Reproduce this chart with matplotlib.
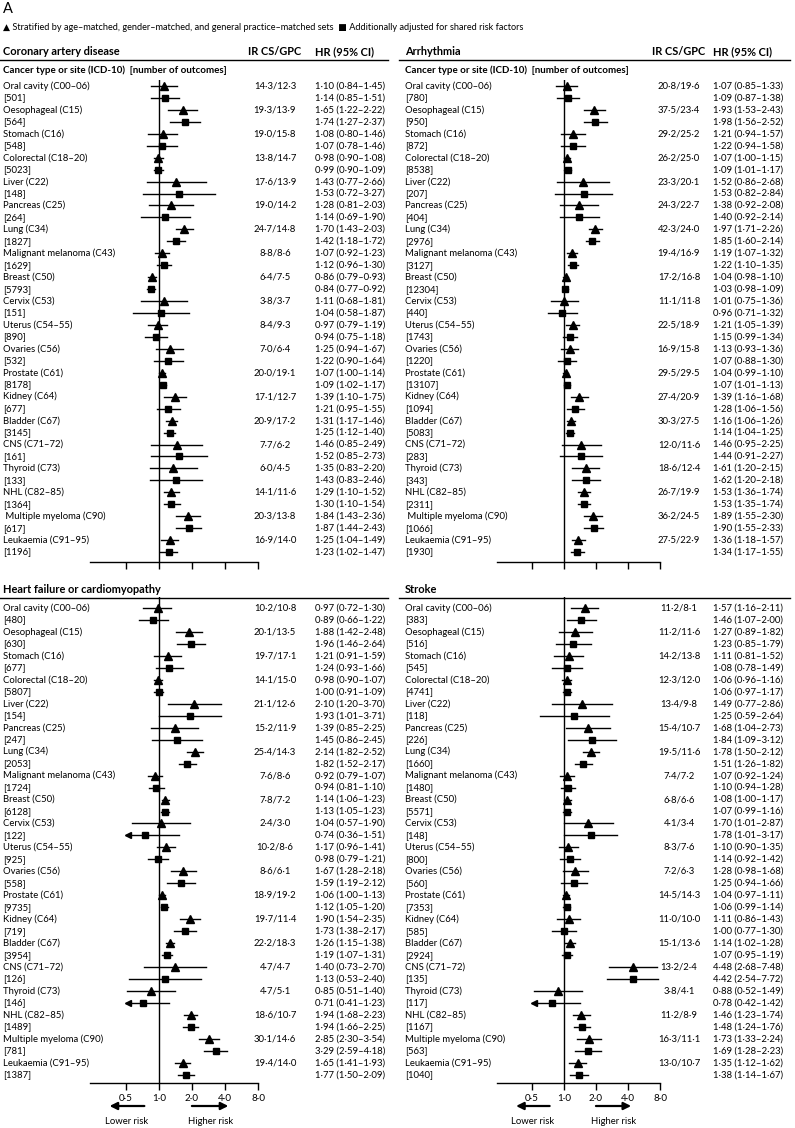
import matplotlib
matplotlib.use("Agg")
import matplotlib.pyplot as plt
from matplotlib.lines import Line2D
from matplotlib.ticker import NullLocator
import matplotlib.transforms as mtransforms

plt.rcParams['font.family'] = ['Lato', 'DejaVu Sans']

W, H = 795, 1128

# ---- data ----
cancers = ["Oral cavity (C00–06)", "Oesophageal (C15)", "Stomach (C16)", "Colorectal (C18–20)",
           "Liver (C22)", "Pancreas (C25)", "Lung (C34)", "Malignant melanoma (C43)",
           "Breast (C50)", "Cervix (C53)", "Uterus (C54–55)", "Ovaries (C56)",
           "Prostate (C61)", "Kidney (C64)", "Bladder (C67)", "CNS (C71–72)",
           "Thyroid (C73)", "NHL (C82–85)", "Multiple myeloma (C90)", "Leukaemia (C91–95)"]
xticks = [0.5, 1, 2, 4, 8]
xtick_labels = ["0·5", "1·0", "2·0", "4·0", "8·0"]

# coronary artery disease
cad_ir = ["14·3/12·3", "19·3/13·9", "19·0/15·8", "13·8/14·7", "17·6/13·9", "19·0/14·2", "24·7/14·8",
          "8·8/8·6", "6·4/7·5", "3·8/3·7", "8·4/9·3", "7·0/6·4", "20·0/19·1", "17·1/12·7",
          "20·9/17·2", "7·7/6·2", "6·0/4·5", "14·1/11·6", "20·3/13·8", "16·9/14·0"]
cad_n = [501, 564, 548, 5023, 148, 264, 1827, 1629, 5793, 151, 890, 532, 8178, 677, 3145, 161,
         133, 1364, 617, 1196]
cad_strat = [(1.10, 0.84, 1.45), (1.65, 1.22, 2.22), (1.08, 0.80, 1.46), (0.98, 0.90, 1.08),
             (1.43, 0.77, 2.66), (1.28, 0.81, 2.03), (1.70, 1.43, 2.03), (1.07, 0.92, 1.23),
             (0.86, 0.79, 0.93), (1.11, 0.68, 1.81), (0.97, 0.79, 1.19), (1.25, 0.94, 1.67),
             (1.07, 1.00, 1.14), (1.39, 1.10, 1.75), (1.31, 1.17, 1.46), (1.46, 0.85, 2.49),
             (1.35, 0.83, 2.20), (1.29, 1.10, 1.52), (1.84, 1.43, 2.36), (1.25, 1.04, 1.49)]
cad_adj = [(1.14, 0.85, 1.51), (1.74, 1.27, 2.37), (1.07, 0.78, 1.46), (0.99, 0.90, 1.09),
           (1.53, 0.72, 3.27), (1.14, 0.69, 1.90), (1.42, 1.18, 1.72), (1.12, 0.96, 1.30),
           (0.84, 0.77, 0.92), (1.04, 0.58, 1.87), (0.94, 0.75, 1.18), (1.22, 0.90, 1.64),
           (1.09, 1.02, 1.17), (1.21, 0.95, 1.55), (1.25, 1.12, 1.40), (1.52, 0.85, 2.73),
           (1.43, 0.83, 2.46), (1.30, 1.10, 1.54), (1.87, 1.44, 2.43), (1.23, 1.02, 1.47)]

# arrhythmia
arr_ir = ["20·8/19·6", "37·5/23·4", "29·2/25·2", "26·2/25·0", "23·3/20·1", "24·3/22·7", "42·3/24·0",
          "19·4/16·9", "17·2/16·8", "11·1/11·8", "22·5/18·9", "16·9/15·8", "29·5/29·5", "27·4/20·9",
          "30·3/27·5", "12·0/11·6", "18·6/12·4", "26·7/19·9", "36·2/24·5", "27·5/22·9"]
arr_n = [780, 950, 872, 8538, 207, 404, 2976, 3127, 12304, 440, 1743, 1220, 13107, 1094, 5083,
         283, 343, 2311, 1066, 1930]
arr_strat = [(1.07, 0.85, 1.33), (1.93, 1.53, 2.43), (1.21, 0.94, 1.57), (1.07, 1.00, 1.15),
             (1.52, 0.86, 2.68), (1.38, 0.92, 2.08), (1.97, 1.71, 2.26), (1.19, 1.07, 1.32),
             (1.04, 0.98, 1.10), (1.01, 0.75, 1.36), (1.21, 1.05, 1.39), (1.13, 0.93, 1.36),
             (1.04, 0.99, 1.10), (1.39, 1.16, 1.68), (1.16, 1.06, 1.26), (1.46, 0.95, 2.25),
             (1.61, 1.20, 2.15), (1.53, 1.36, 1.74), (1.89, 1.55, 2.30), (1.36, 1.18, 1.57)]
arr_adj = [(1.09, 0.87, 1.38), (1.98, 1.56, 2.52), (1.22, 0.94, 1.58), (1.09, 1.01, 1.17),
           (1.53, 0.82, 2.84), (1.40, 0.92, 2.14), (1.85, 1.60, 2.14), (1.22, 1.10, 1.35),
           (1.03, 0.98, 1.09), (0.96, 0.71, 1.32), (1.15, 0.99, 1.34), (1.07, 0.88, 1.30),
           (1.07, 1.01, 1.13), (1.28, 1.06, 1.56), (1.14, 1.04, 1.25), (1.44, 0.91, 2.27),
           (1.62, 1.20, 2.18), (1.53, 1.35, 1.74), (1.90, 1.55, 2.33), (1.34, 1.17, 1.55)]

# heart failure or cardiomyopathy
hf_ir = ["10·2/10·8", "20·1/13·5", "19·7/17·1", "14·1/15·0", "21·1/12·6", "15·2/11·9", "25·4/14·3",
         "7·6/8·6", "7·8/7·2", "2·4/3·0", "10·2/8·6", "8·6/6·1", "18·9/19·2", "19·7/11·4",
         "22·2/18·3", "4·7/4·7", "4·7/5·1", "18·6/10·7", "30·1/14·6", "19·4/14·0"]
hf_n = [480, 630, 677, 5807, 154, 247, 2053, 1724, 6128, 122, 925, 558, 9735, 719, 3954, 126,
        146, 1489, 781, 1387]
hf_strat = [(0.97, 0.72, 1.30), (1.88, 1.42, 2.48), (1.21, 0.91, 1.59), (0.98, 0.90, 1.07),
            (2.10, 1.20, 3.70), (1.39, 0.85, 2.25), (2.14, 1.82, 2.52), (0.92, 0.79, 1.07),
            (1.14, 1.06, 1.23), (1.04, 0.57, 1.90), (1.17, 0.96, 1.41), (1.67, 1.28, 2.18),
            (1.06, 1.00, 1.13), (1.90, 1.54, 2.35), (1.26, 1.15, 1.38), (1.40, 0.73, 2.70),
            (0.85, 0.51, 1.40), (1.94, 1.68, 2.23), (2.85, 2.30, 3.54), (1.65, 1.41, 1.93)]
hf_adj = [(0.89, 0.66, 1.22), (1.96, 1.46, 2.64), (1.24, 0.93, 1.66), (1.00, 0.91, 1.09),
          (1.93, 1.01, 3.71), (1.45, 0.86, 2.45), (1.82, 1.52, 2.17), (0.94, 0.81, 1.10),
          (1.13, 1.05, 1.23), (0.74, 0.36, 1.51), (0.98, 0.79, 1.21), (1.59, 1.19, 2.12),
          (1.12, 1.05, 1.20), (1.73, 1.38, 2.17), (1.19, 1.07, 1.31), (1.13, 0.53, 2.40),
          (0.71, 0.41, 1.23), (1.94, 1.66, 2.25), (3.29, 2.59, 4.18), (1.77, 1.50, 2.09)]

# stroke
st_ir = ["11·2/8·1", "11·2/11·6", "14·2/13·8", "12·3/12·0", "13·4/9·8", "15·4/10·7", "19·5/11·6",
         "7·4/7·2", "6·8/6·6", "4·1/3·4", "8·3/7·6", "7·2/6·3", "14·5/14·3", "11·0/10·0",
         "15·1/13·6", "13·2/2·4", "3·8/4·1", "11·2/8·9", "16·3/11·1", "13·0/10·7"]
st_n = [383, 516, 545, 4741, 118, 226, 1660, 1480, 5571, 148, 800, 560, 7353, 585, 2924, 135,
        117, 1167, 563, 1040]
st_strat = [(1.57, 1.16, 2.11), (1.27, 0.89, 1.82), (1.11, 0.81, 1.52), (1.06, 0.96, 1.16),
            (1.49, 0.77, 2.86), (1.68, 1.04, 2.73), (1.78, 1.50, 2.12), (1.07, 0.92, 1.24),
            (1.08, 1.00, 1.17), (1.70, 1.01, 2.87), (1.10, 0.90, 1.35), (1.28, 0.98, 1.68),
            (1.04, 0.97, 1.11), (1.11, 0.86, 1.43), (1.14, 1.02, 1.28), (4.48, 2.68, 7.48),
            (0.88, 0.52, 1.49), (1.46, 1.23, 1.74), (1.73, 1.33, 2.24), (1.35, 1.12, 1.62)]
st_adj = [(1.46, 1.07, 2.00), (1.23, 0.85, 1.79), (1.08, 0.78, 1.49), (1.06, 0.97, 1.17),
          (1.25, 0.59, 2.64), (1.84, 1.09, 3.12), (1.51, 1.26, 1.82), (1.10, 0.94, 1.28),
          (1.07, 0.99, 1.16), (1.78, 1.01, 3.17), (1.14, 0.92, 1.42), (1.25, 0.94, 1.66),
          (1.06, 0.99, 1.14), (1.00, 0.77, 1.30), (1.07, 0.95, 1.19), (4.42, 2.54, 7.72),
          (0.78, 0.42, 1.42), (1.48, 1.24, 1.76), (1.69, 1.28, 2.23), (1.38, 1.14, 1.67)]

FS = 6.8        # row text
FS_HEAD = 7.9   # bold panel headings
CLIP = 0.5      # CI lines are cut here and get an arrow


def fx(x):
    return x / W


def fy(y):
    return 1 - y / H


def hline(fig, x0, x1, y, lw=1.0):
    fig.add_artist(Line2D([fx(x0), fx(x1)], [fy(y), fy(y)], transform=fig.transFigure,
                          color='black', lw=lw))


def fmt_hr(t):
    return ("%.2f (%.2f–%.2f)" % t).replace('.', '·')


def draw_panel(fig, ax_px, ylim, text_x, ir_cx, hr_x, title, ir, n, strat, adj,
               top, mm_space, show_labels):
    x0, x1, y0, y1 = ax_px
    ax = fig.add_axes([fx(x0), fy(y1), fx(x1) - fx(x0), (y1 - y0) / H])
    ax.set_xscale('log', base=2)
    ax.set_xlim(0.235, 8)
    ax.set_ylim(*ylim)
    for s in ['top', 'right', 'left']:
        ax.spines[s].set_visible(False)
    ax.spines['bottom'].set_linewidth(1.0)
    ax.set_yticks([])
    ax.set_xticks(xticks)
    ax.xaxis.set_minor_locator(NullLocator())
    ax.tick_params(axis='x', direction='out', length=5, width=1.0, pad=3,
                   labelsize=FS + 0.3, labelbottom=show_labels)
    ax.set_xticklabels(xtick_labels)
    ax.axvline(1, color='black', lw=1.0, zorder=1)
    ax.patch.set_alpha(0)

    tr = mtransforms.blended_transform_factory(fig.transFigure, ax.transData)
    for i, name in enumerate(cancers):
        for k, (vals, mk, ms) in enumerate([(strat[i], '^', 5.6), (adj[i], 's', 4.6)]):
            row = 2 * i + k
            hr, lo, hi = vals
            ax.plot([max(lo, CLIP), hi], [row, row], color='black', lw=1.0, zorder=2)
            if lo < CLIP:
                ax.plot([CLIP * 1.04], [row], marker='<', ms=4, color='black', zorder=3)
            ax.plot([hr], [row], marker=mk, ms=ms, color='black', zorder=3, lw=0)
            fig.text(fx(hr_x), row, fmt_hr(vals), transform=tr, fontsize=FS, va='center')
        label = name
        if mm_space and name.startswith("Multiple"):
            label = " " + name
        fig.text(fx(text_x), 2 * i, label, transform=tr, fontsize=FS, va='center')
        fig.text(fx(text_x), 2 * i + 1, "[%d]" % n[i], transform=tr, fontsize=FS, va='center')
        fig.text(fx(ir_cx), 2 * i, ir[i], transform=tr, fontsize=FS, va='center', ha='center')

    lx0 = text_x - 6
    lx1 = text_x + 385
    if top:
        fig.text(fx(text_x), fy(55), title, fontsize=FS_HEAD, fontweight='bold', va='baseline')
        fig.text(fx(ir_cx), fy(55), "IR CS/GPC", fontsize=FS_HEAD, fontweight='bold',
                 va='baseline', ha='center')
        fig.text(fx(hr_x), fy(55), "HR (95% CI)", fontsize=FS_HEAD, fontweight='bold',
                 va='baseline')
        hline(fig, lx0, lx1, 60)
        fig.text(fx(text_x), fy(70), "Cancer type or site (ICD-10)  [number of outcomes]",
                 fontsize=FS + 0.2, fontweight='bold', va='center')
    else:
        fig.text(fx(text_x), fy(593), title, fontsize=FS_HEAD, fontweight='bold', va='baseline')
        hline(fig, lx0, lx1, 597.5)
    return ax


def risk_arrows(fig, ax_px, y_arrow, y_text):
    x0, x1 = ax_px[0], ax_px[1]
    w = x1 - x0
    la = (x0 + 0.34 * w, x0 + 0.10 * w)
    ra = (x0 + 0.59 * w, x0 + 0.84 * w)
    for tail, tip in (la, ra):
        fig.add_artist(matplotlib.patches.FancyArrowPatch(
            (fx(tail), fy(y_arrow)), (fx(tip), fy(y_arrow)), transform=fig.transFigure,
            arrowstyle='-|>', mutation_scale=11, lw=1.6, color='black'))
    fig.text(fx((la[0] + la[1]) / 2), fy(y_text), "Lower risk", fontsize=FS, ha='center',
             va='center')
    fig.text(fx((ra[0] + ra[1]) / 2), fy(y_text), "Higher risk", fontsize=FS, ha='center',
             va='center')


fig = plt.figure(figsize=(W / 100, H / 100), dpi=100)

fig.text(fx(3), fy(9), "A", fontsize=10.5, va='center')
fig.text(fx(3), fy(27), "▲ Stratified by age–matched, gender–matched, and general practice–matched sets"
         "  ■ Additionally adjusted for shared risk factors", fontsize=6.6, va='center')

top_ylim = (39.83, -0.5)
bot_ylim = (39.68, -0.92)
left_top = (90, 258, 80, 562)
right_top = (497, 660, 80, 562)
left_bot = (90, 258, 597, 1083)
right_bot = (497, 660, 597, 1083)

draw_panel(fig, left_top, top_ylim, 3, 275, 315, "Coronary artery disease",
           cad_ir, cad_n, cad_strat, cad_adj, True, True, False)
draw_panel(fig, right_top, top_ylim, 405, 679, 713, "Arrhythmia",
           arr_ir, arr_n, arr_strat, arr_adj, True, True, False)
draw_panel(fig, left_bot, bot_ylim, 3, 275, 315, "Heart failure or cardiomyopathy",
           hf_ir, hf_n, hf_strat, hf_adj, False, False, True)
draw_panel(fig, right_bot, bot_ylim, 405, 679, 713, "Stroke",
           st_ir, st_n, st_strat, st_adj, False, False, True)

risk_arrows(fig, left_bot, 1106, 1121)
risk_arrows(fig, right_bot, 1106, 1121)

fig.savefig("out.png", dpi=100)
